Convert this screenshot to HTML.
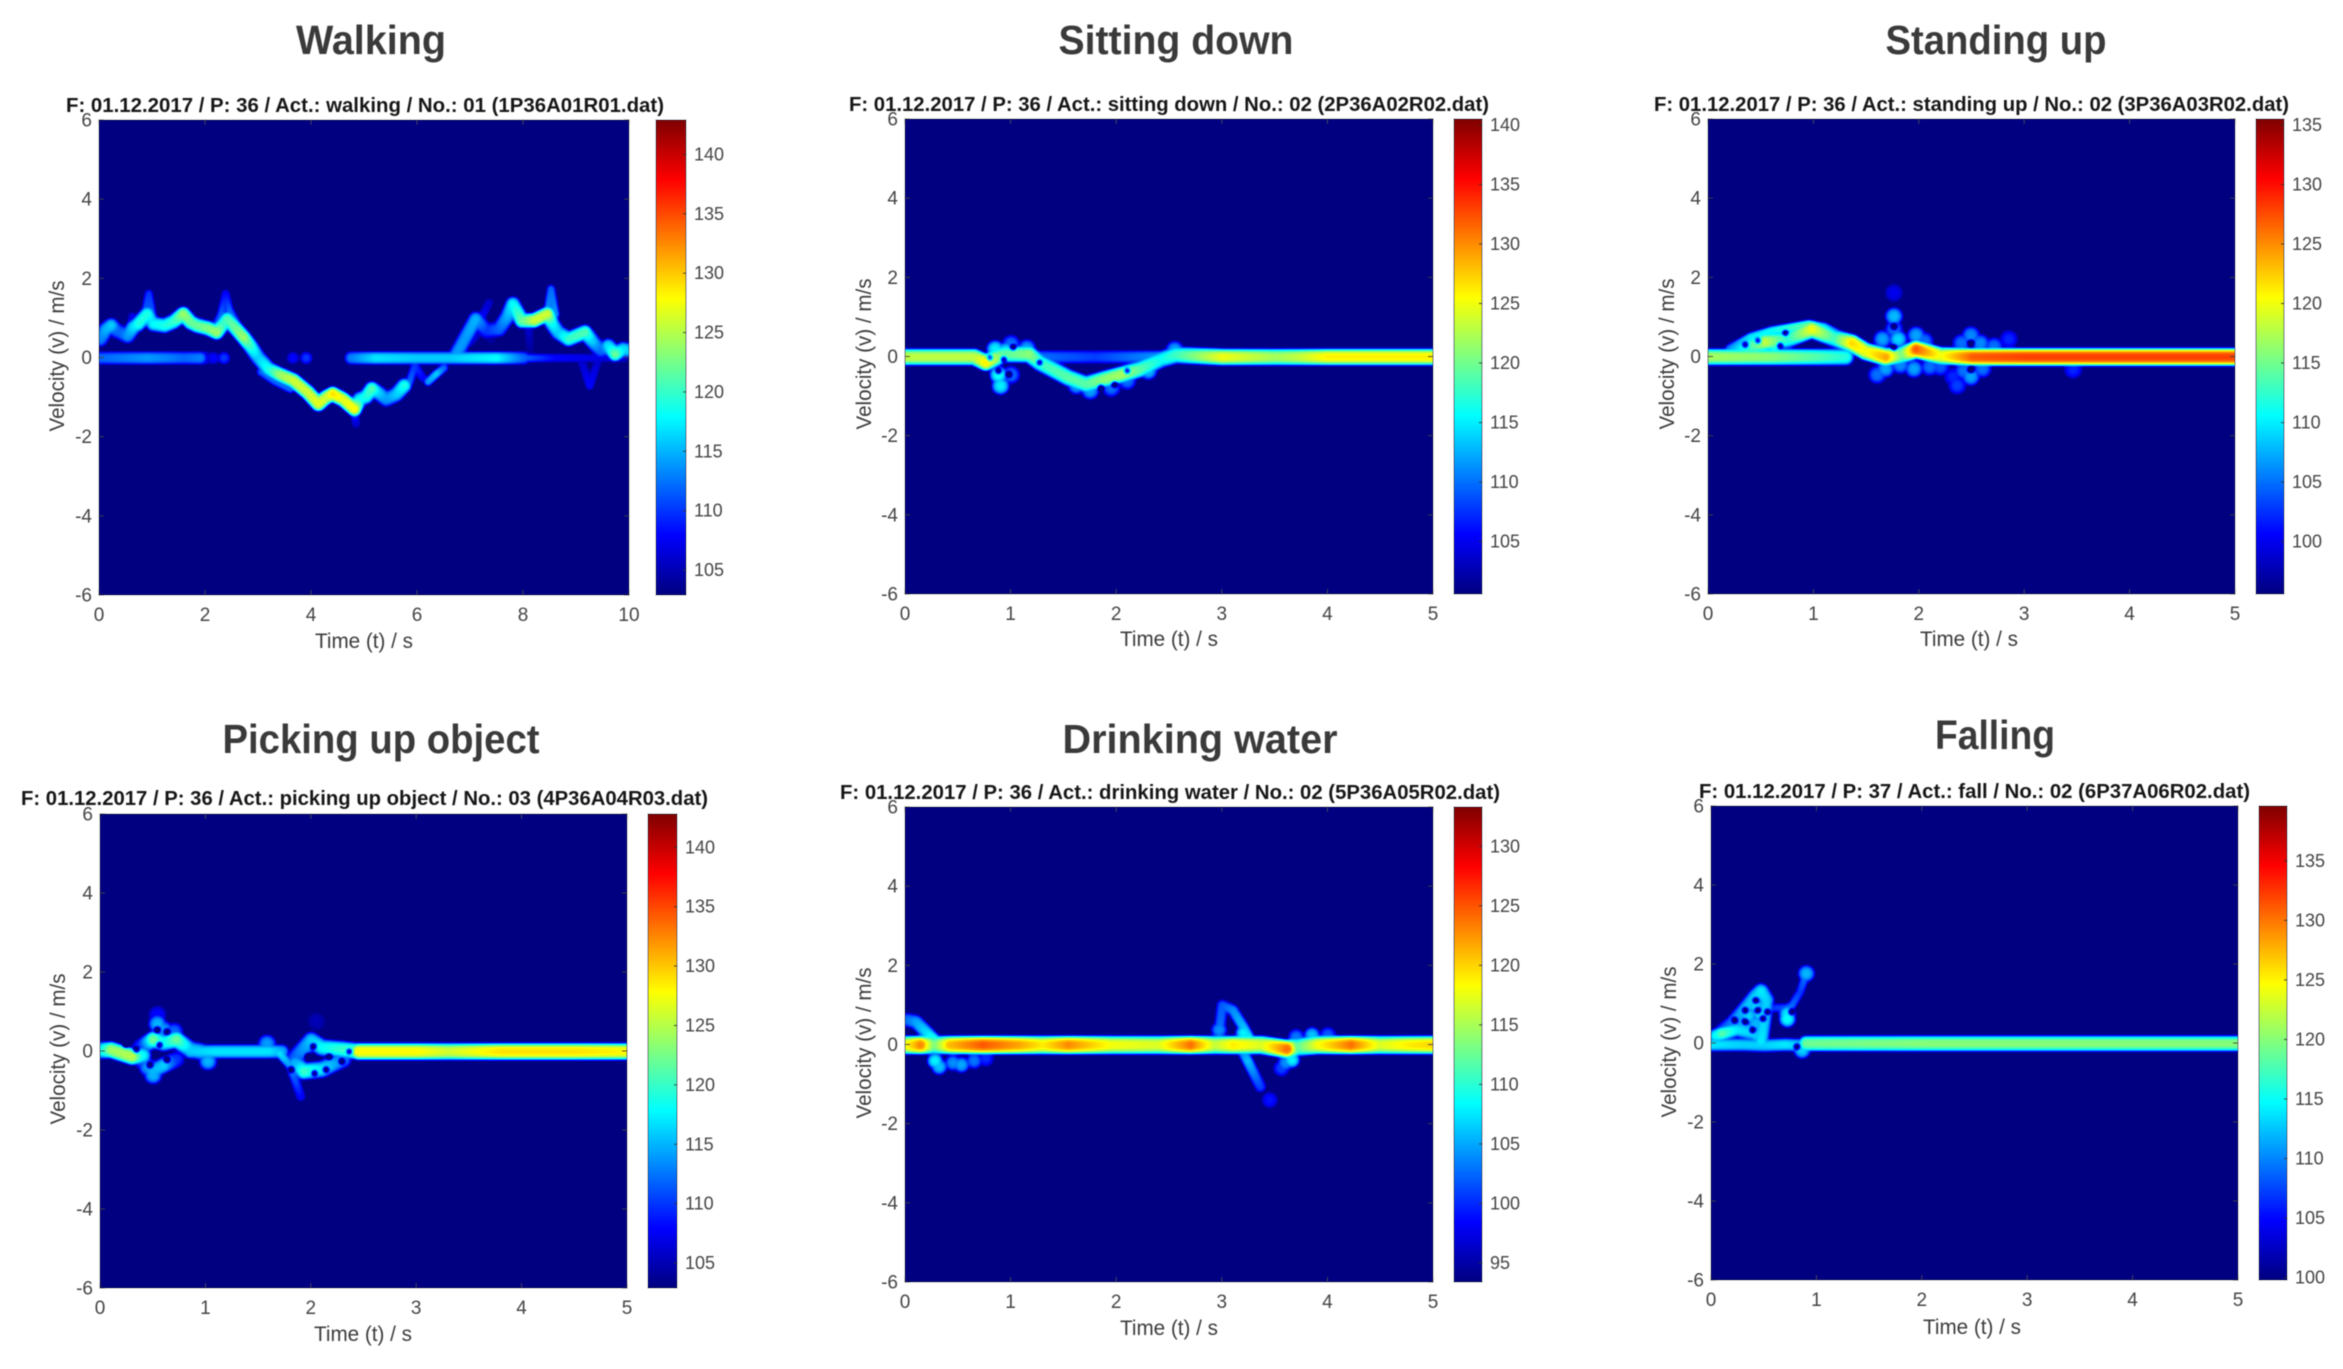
<!DOCTYPE html>
<html lang="en">
<head>
<meta charset="utf-8">
<title>Radar spectrograms of six activities</title>
<style>
  html, body { margin: 0; padding: 0; background: #ffffff; }
  #stage { position: relative; width: 2343px; height: 1369px; overflow: hidden; background: #ffffff; }
  canvas { position: absolute; display: block; }
  svg#overlay { position: absolute; left: 0; top: 0; filter: blur(0.45px); }
  text { font-family: "Liberation Sans", sans-serif; }
  .title { font-size: 41px; font-weight: bold; fill: #3a3a3a; text-anchor: middle; }
  .subtitle { font-size: 20px; font-weight: bold; fill: #161616; }
  .axis-label { font-size: 21px; fill: #3c3c3c; text-anchor: middle; }
</style>
</head>
<body>
<div id="stage">
  <canvas id="heat-walking"></canvas>
  <canvas id="bar-walking"></canvas>
  <canvas id="heat-sitting"></canvas>
  <canvas id="bar-sitting"></canvas>
  <canvas id="heat-standing"></canvas>
  <canvas id="bar-standing"></canvas>
  <canvas id="heat-picking"></canvas>
  <canvas id="bar-picking"></canvas>
  <canvas id="heat-drinking"></canvas>
  <canvas id="bar-drinking"></canvas>
  <canvas id="heat-falling"></canvas>
  <canvas id="bar-falling"></canvas>

  <svg id="overlay" width="2343" height="1369" viewBox="0 0 2343 1369" xmlns="http://www.w3.org/2000/svg">
    <text class="title" x="371" y="54" textLength="150" lengthAdjust="spacingAndGlyphs">Walking</text>
    <text class="title" x="1176" y="54" textLength="235" lengthAdjust="spacingAndGlyphs">Sitting down</text>
    <text class="title" x="1996" y="54" textLength="221" lengthAdjust="spacingAndGlyphs">Standing up</text>
    <text class="title" x="381" y="753" textLength="317" lengthAdjust="spacingAndGlyphs">Picking up object</text>
    <text class="title" x="1200" y="753" textLength="275" lengthAdjust="spacingAndGlyphs">Drinking water</text>
    <text class="title" x="1995" y="749" textLength="120" lengthAdjust="spacingAndGlyphs">Falling</text>

    <text class="subtitle" x="66" y="112" textLength="598" lengthAdjust="spacingAndGlyphs">F: 01.12.2017 / P: 36 / Act.: walking / No.: 01 (1P36A01R01.dat)</text>
    <text class="subtitle" x="849" y="111" textLength="640" lengthAdjust="spacingAndGlyphs">F: 01.12.2017 / P: 36 / Act.: sitting down / No.: 02 (2P36A02R02.dat)</text>
    <text class="subtitle" x="1654" y="111" textLength="635" lengthAdjust="spacingAndGlyphs">F: 01.12.2017 / P: 36 / Act.: standing up / No.: 02 (3P36A03R02.dat)</text>
    <text class="subtitle" x="21" y="805" textLength="687" lengthAdjust="spacingAndGlyphs">F: 01.12.2017 / P: 36 / Act.: picking up object / No.: 03 (4P36A04R03.dat)</text>
    <text class="subtitle" x="840" y="799" textLength="660" lengthAdjust="spacingAndGlyphs">F: 01.12.2017 / P: 36 / Act.: drinking water / No.: 02 (5P36A05R02.dat)</text>
    <text class="subtitle" x="1699" y="798" textLength="551" lengthAdjust="spacingAndGlyphs">F: 01.12.2017 / P: 37 / Act.: fall / No.: 02 (6P37A06R02.dat)</text>

    <text class="axis-label" transform="translate(64,356) rotate(-90)" textLength="151" lengthAdjust="spacingAndGlyphs">Velocity (v) / m/s</text>
    <text class="axis-label" transform="translate(871,354) rotate(-90)" textLength="151" lengthAdjust="spacingAndGlyphs">Velocity (v) / m/s</text>
    <text class="axis-label" transform="translate(1674,354) rotate(-90)" textLength="151" lengthAdjust="spacingAndGlyphs">Velocity (v) / m/s</text>
    <text class="axis-label" transform="translate(65,1049) rotate(-90)" textLength="151" lengthAdjust="spacingAndGlyphs">Velocity (v) / m/s</text>
    <text class="axis-label" transform="translate(871,1043) rotate(-90)" textLength="151" lengthAdjust="spacingAndGlyphs">Velocity (v) / m/s</text>
    <text class="axis-label" transform="translate(1676,1042) rotate(-90)" textLength="151" lengthAdjust="spacingAndGlyphs">Velocity (v) / m/s</text>

    <text class="axis-label" x="364" y="648" textLength="98" lengthAdjust="spacingAndGlyphs">Time (t) / s</text>
    <text class="axis-label" x="1169" y="646" textLength="98" lengthAdjust="spacingAndGlyphs">Time (t) / s</text>
    <text class="axis-label" x="1969" y="646" textLength="98" lengthAdjust="spacingAndGlyphs">Time (t) / s</text>
    <text class="axis-label" x="363" y="1341" textLength="98" lengthAdjust="spacingAndGlyphs">Time (t) / s</text>
    <text class="axis-label" x="1169" y="1335" textLength="98" lengthAdjust="spacingAndGlyphs">Time (t) / s</text>
    <text class="axis-label" x="1972" y="1334" textLength="98" lengthAdjust="spacingAndGlyphs">Time (t) / s</text>

    <g id="axes-layer"></g>
  </svg>
</div>

<script>
/* ---------- tick labels ---------- */
const velocityTicks = [-6, -4, -2, 0, 2, 4, 6];
const timeTicksTen = [0, 2, 4, 6, 8, 10];
const timeTicksFive = [0, 1, 2, 3, 4, 5];
const walkingLevelTicks = [105, 110, 115, 120, 125, 130, 135, 140];
const sittingLevelTicks = [105, 110, 115, 120, 125, 130, 135, 140];
const standingLevelTicks = [100, 105, 110, 115, 120, 125, 130, 135];
const pickingLevelTicks = [105, 110, 115, 120, 125, 130, 135, 140];
const drinkingLevelTicks = [95, 100, 105, 110, 115, 120, 125, 130];
const fallingLevelTicks = [100, 105, 110, 115, 120, 125, 130, 135];

/* ---------- walking: time (s), velocity (m/s), level (dB) ---------- */
const walkRidgeTime = [0.02,0.12,0.22,0.33,0.39,0.53,0.64,0.73,0.9,0.97,1.02,1.23,1.4,1.58,1.72,1.84,2.05,2.21,2.33,2.41,2.55,2.72,2.85,2.99,3.19,3.4,3.66,3.93,4.13,4.27,4.4,4.6,4.81,4.91,5.03,5.14,5.28,5.41,5.6,5.75];
const walkRidgeVel = [0.48,0.72,0.82,0.68,0.65,0.56,0.78,0.86,1.11,0.95,0.86,0.82,0.92,1.11,0.9,0.82,0.75,0.65,0.85,0.98,0.78,0.52,0.3,0.02,-0.28,-0.42,-0.57,-0.87,-1.16,-1,-0.91,-1.05,-1.29,-1.04,-0.98,-0.78,-0.9,-1.04,-0.92,-0.7];
const walkRidgeDb = [113,115,116,112,112,114,117,119,119,117,118,119,120,124,122,122,123,124,120,121,122,124,120,116,119,124,126,126,127,126,129,127,128,118,119,121,116,114,116,119];
const walkRiseTime = [6.7,6.9,7.1,7.3,7.54,7.7,7.8,7.97,8.2,8.45,8.55,8.65,8.85,9.16,9.3,9.46,9.6,9.73,9.88,10];
const walkRiseVel = [0.02,0.5,0.98,0.69,0.73,1.05,1.36,0.94,0.95,1.11,0.85,0.65,0.48,0.65,0.42,0.19,0.3,0.1,0.22,0.19];
const walkRiseDb = [114,114,115,110,112,115,118,122,126,126,118,116,120,121,116,112,117,122,117,116];
const walkZeroTime = [0,0.5,0.9,1.3,1.6,1.9,2.05,null,4.75,5.2,6,6.6,7,7.5,8];
const walkZeroVel = [0,0,0,0,0,0,0,null,0,0,0,0,0,0,0];
const walkZeroDb = [112,113,114,113,112,113,106,null,113,117,116,116,117,118,112];
const walkThinTime = [8,8.6,9.3,9.9];
const walkThinVel = [0,0,0,0];
const walkThinDb = [112,108,107,106];
const walkFaintTime = [0.55,0.62,null,0.86,0.93,1.0,null,2.2,2.3,2.38,2.45,2.6,2.8,null,4.8,4.84,null,5.85,5.95,6.1,null,6.2,6.36,6.5,null,7.2,7.35,null,7.55,7.7,null,8.45,8.52,8.6,null,9.1,9.25,9.4,null,8.1,8.13,null,3.05,3.3,3.6,null,7.0,7.2,7.4];
const walkFaintVel = [0.5,1.05,null,1.1,1.62,1.05,null,0.85,1.1,1.62,1.2,0.85,0.42,null,-1.2,-1.67,null,-0.6,-0.2,-0.5,null,-0.6,-0.4,-0.25,null,1.0,1.4,null,0.9,1.2,null,1.1,1.74,1.1,null,-0.1,-0.7,-0.1,null,0.7,0.2,null,-0.35,-0.58,-0.78,null,0.4,0.7,0.45];
const walkFaintDb = [106,107,null,112,110,112,null,110,112,108,112,112,110,null,114,106,null,112,110,108,null,114,116,112,null,108,106,null,108,106,null,114,112,114,null,106,108,106,null,106,104,null,112,112,112,null,106,106,104];
const walkSpotTime = [2.35,2.15,3.65,3.9];
const walkSpotVel = [0,0,0,0];
const walkSpotDb = [110,108,108,110];

/* ---------- sitting down ---------- */
const sitBandTime = [0,0.65,0.76,0.93,1.17,1.27,1.54,1.71,1.88,2.05,2.22,2.42,2.56,3,3.5,3.7,4,4.5,5];
const sitBandVel = [0,0,-0.14,0.07,0.07,-0.14,-0.52,-0.69,-0.56,-0.44,-0.31,-0.06,0.05,0,0,0,0,0,0];
const sitBandDb = [123,123,126,119,121,118,119,119,121,122,119,116,118,125,122,123,126,126,126];
const sitThinTime = [1.25,1.8,2.45];
const sitThinVel = [0,0,0];
const sitThinDb = [110,108,112];
const sitSpotTime = [0.88,0.9,1,1,0.85,1.15,0.95,1.75,1.95,2.1,2.55,1.62,2.3];
const sitSpotVel = [-0.45,-0.73,-0.45,0.33,0.2,0.22,0.15,-0.85,-0.78,-0.6,0.18,-0.72,-0.35];
const sitSpotDb = [116,115,110,110,115,112,115,112,110,110,112,112,113];
const sitHoleTime = [0.8,0.88,0.98,0.93,1.02,1.85,1.98,2.1,1.27];
const sitHoleVel = [-0.02,-0.35,-0.44,-0.06,0.24,-0.77,-0.69,-0.35,-0.14];

/* ---------- standing up ---------- */
const standBandTime = [0,0.6,1,1.3];
const standBandVel = [0,0,0,0];
const standBandDb = [117,116,114,112];
const standHumpTime = [0.24,0.54,0.75,0.98,1.19,1.36,1.49,1.68,1.83,1.97,2.2,2.5,3,4,5];
const standHumpVel = [0.15,0.38,0.45,0.7,0.48,0.35,0.14,0,0.05,0.19,0.03,0,0,0,0];
const standHumpDb = [108,118,112,120,113,122,120,124,115,127,120,127,128,128,128];
const standDomeTime = [0.2,0.4,0.6,0.8,0.95,1.1,1.25];
const standDomeVel = [0.2,0.5,0.66,0.75,0.82,0.75,0.55];
const standDomeDb = [106,110,111,113,114,110,106];
const standSpotTime = [1.76,1.76,1.65,1.8,1.97,2.05,1.6,1.68,1.95,2.1,2.32,2.36,2.49,2.4,2.58,2.49,2.42,2.6,2.71,2.85,3.46,1.76,0.35,0.62,1.82,2.2];
const standSpotVel = [1.03,0.7,0.45,0.45,0.55,0.4,-0.45,-0.3,-0.3,-0.25,-0.5,-0.72,0.55,0.35,0.35,-0.5,-0.35,-0.3,0.27,0.45,-0.32,1.62,0.25,0.3,-0.2,-0.25];
const standSpotDb = [108,105,107,109,107,105,105,107,107,105,102,103,106,105,106,107,105,105,105,102,102,100,110,112,106,104];
const standHoleTime = [0.35,0.47,0.73,0.68,1.76,2.49,2.49,1.76];
const standHoleVel = [0.31,0.41,0.61,0.29,0.77,0.35,-0.32,0.23];

/* ---------- picking up object ---------- */
const pickStartTime = [0,0.1,0.3,0.4];
const pickStartVel = [0.03,0.04,-0.13,-0.1];
const pickStartDb = [118,124,125,118];
const pickUpperTime = [0.38,0.5,0.6,0.72,0.85,0.95];
const pickUpperVel = [0.1,0.3,0.22,0.3,0.05,0];
const pickUpperDb = [110,122,118,122,116,116];
const pickLowerTime = [0.38,0.49,0.6,0.72];
const pickLowerVel = [-0.2,-0.5,-0.35,-0.2];
const pickLowerDb = [110,115,116,110];
const pickMidTime = [0.85,1.08,1.6,1.72];
const pickMidVel = [0,0,0,0];
const pickMidDb = [116,117,117,115];
const pickDipTime = [1.7,1.8,1.9];
const pickDipVel = [-0.05,-0.35,-1.14];
const pickDipDb = [117,114,108];
const pickBlobTopTime = [1.85,2,2.1,2.3,2.45];
const pickBlobTopVel = [-0.15,0.28,0.1,0.05,0];
const pickBlobTopDb = [112,116,118,120,122];
const pickBlobLowTime = [1.85,1.93,2.1,2.3];
const pickBlobLowVel = [-0.3,-0.5,-0.45,-0.2];
const pickBlobLowDb = [115,120,117,113];
const pickTailTime = [2.45,3,3.3,3.8,4.5,5];
const pickTailVel = [0,0,0,0,0,0];
const pickTailDb = [128,128,126,129,129,128];
const pickSpotTime = [0.54,0.54,0.5,2.05,1.02,1.58,0.6,0.45,0.7,2.2];
const pickSpotVel = [0.93,0.7,-0.6,0.76,-0.25,0.2,0.55,-0.4,0.5,-0.3];
const pickSpotDb = [108,115,115,105,115,114,114,114,112,114];
const pickHoleTime = [0.24,0.34,0.54,0.63,0.56,0.47,0.63,1.97,2.02,1.81,2.03,2.14,2.17,2.29,2.36];
const pickHoleVel = [0.17,0.04,0.55,0.5,0.17,-0.34,-0.21,-0.13,0.13,-0.46,-0.55,-0.46,-0.13,-0.25,0];

/* ---------- drinking water ---------- */
const drinkBandTime = [0,0.14,0.27,0.42,0.73,1.07,1.3,1.54,1.95,2.39,2.7,2.93,3.1,3.37,3.61,3.71,3.9,4.22,4.49,4.76,5];
const drinkBandVel = [0,0,0,0,0,0,0,0,0,0,0,0,0,0,-0.1,-0.05,0,0,0,0,0];
const drinkBandDb = [118,123,113,121,125,122,119,123,118,117,124,116,119,117,124,112,118,124,117,119,120];
const drinkLeftTime = [0.02,0.1,0.19,0.27];
const drinkLeftVel = [0.63,0.58,0.34,0.12];
const drinkLeftDb = [103,105,107,110];
const drinkUpTime = [2.97,3,3.1,3.2,3.25];
const drinkUpVel = [0.3,1,0.88,0.45,0.2];
const drinkUpDb = [103,102,104,106,108];
const drinkDownTime = [3.2,3.24,3.36];
const drinkDownVel = [-0.2,-0.4,-1.05];
const drinkDownDb = [104,106,101];
const drinkSpotTime = [0.32,0.28,0.45,0.53,0.65,0.76,3.45,3.56,3.66,3.6,3.85,4,3.7,2.97,3.2];
const drinkSpotVel = [-0.55,-0.4,-0.45,-0.5,-0.4,-0.34,-1.39,-0.59,-0.38,-0.45,0.25,0.25,0.2,0.38,0.3];
const drinkSpotDb = [106,108,104,105,103,100,99,101,108,104,106,102,103,104,108];

/* ---------- falling ---------- */
const fallBandTime = [0.9,2,3,4,5];
const fallBandVel = [0,0,0,0,0];
const fallBandDb = [119,120,120,120,120];
const fallLowTime = [0,0.3,0.5,0.7,0.9];
const fallLowVel = [-0.03,-0.03,-0.05,-0.03,-0.05];
const fallLowDb = [114,113,113,114,112];
const fallArmTime = [0.04,0.1,0.24,0.4,0.47];
const fallArmVel = [0.2,0.25,0.35,0.25,0.1];
const fallArmDb = [115,118,114,113,112];
const fallRiseTime = [0.1,0.2,0.3,0.42,0.47,0.52];
const fallRiseVel = [0.3,0.5,0.8,1.2,1.32,1.1];
const fallRiseDb = [108,110,112,113,114,113];
const fallInnerTime = [0.52,0.5,0.47];
const fallInnerVel = [1.1,0.6,0.05];
const fallInnerDb = [113,113,114];
const fallTailTime = [0.5,0.7,0.76,0.84,0.9];
const fallTailVel = [0.9,0.9,0.95,1.3,1.77];
const fallTailDb = [106,108,109,107,110];
const fallSpotTime = [0.35,0.42,0.25,0.42,0.35,0.72,0.72,0.9,0.86,0.3,0.46];
const fallSpotVel = [0.7,0.95,0.6,0.5,0.3,0.62,0.75,1.77,-0.17,0.45,0.75];
const fallSpotDb = [113,113,110,112,113,115,114,112,113,112,113];
const fallHoleTime = [0.32,0.44,0.53,0.42,0.32,0.22,0.49,0.39,0.76,0.81];
const fallHoleVel = [0.84,0.84,0.8,1.09,0.55,0.59,0.63,0.34,0.8,-0.08];

/* ---------- panel wiring ---------- */
const panels = [
  { key: 'walking', x0: 99, x1: 629, y0: 120, y1: 595, tMax: 10, barX0: 656, barX1: 686, cMin: 102.9, cMax: 142.9,
    xTicks: timeTicksTen, levelTicks: walkingLevelTicks, spotRadius: 7,
    lines: [
      { t: walkRidgeTime, v: walkRidgeVel, db: walkRidgeDb, radius: 8.5 },
      { t: walkRiseTime, v: walkRiseVel, db: walkRiseDb, radius: 8.5 },
      { t: walkZeroTime, v: walkZeroVel, db: walkZeroDb, radius: 7.5 },
      { t: walkThinTime, v: walkThinVel, db: walkThinDb, radius: 5 },
      { t: walkFaintTime, v: walkFaintVel, db: walkFaintDb, radius: 5 }
    ],
    spots: { t: walkSpotTime, v: walkSpotVel, db: walkSpotDb } },
  { key: 'sitting', x0: 905, x1: 1433, y0: 119, y1: 594, tMax: 5, barX0: 1454, barX1: 1482, cMin: 100.6, cMax: 140.5,
    xTicks: timeTicksFive, levelTicks: sittingLevelTicks, spotRadius: 10,
    lines: [
      { t: sitBandTime, v: sitBandVel, db: sitBandDb, radius: 9.5 },
      { t: sitThinTime, v: sitThinVel, db: sitThinDb, radius: 7.5 }
    ],
    spots: { t: sitSpotTime, v: sitSpotVel, db: sitSpotDb },
    holes: { t: sitHoleTime, v: sitHoleVel } },
  { key: 'standing', x0: 1708, x1: 2235, y0: 119, y1: 594, tMax: 5, barX0: 2256, barX1: 2284, cMin: 95.6, cMax: 135.5,
    xTicks: timeTicksFive, levelTicks: standingLevelTicks, spotRadius: 10,
    lines: [
      { t: standBandTime, v: standBandVel, db: standBandDb, radius: 9.5 },
      { t: standHumpTime, v: standHumpVel, db: standHumpDb, radius: 10 },
      { t: standDomeTime, v: standDomeVel, db: standDomeDb, radius: 5.5 }
    ],
    spots: { t: standSpotTime, v: standSpotVel, db: standSpotDb },
    holes: { t: standHoleTime, v: standHoleVel } },
  { key: 'picking', x0: 100, x1: 627, y0: 814, y1: 1288, tMax: 5, barX0: 648, barX1: 677, cMin: 102.9, cMax: 142.8,
    xTicks: timeTicksFive, levelTicks: pickingLevelTicks, spotRadius: 10,
    lines: [
      { t: pickStartTime, v: pickStartVel, db: pickStartDb, radius: 9.5 },
      { t: pickUpperTime, v: pickUpperVel, db: pickUpperDb, radius: 9.5 },
      { t: pickLowerTime, v: pickLowerVel, db: pickLowerDb, radius: 9 },
      { t: pickMidTime, v: pickMidVel, db: pickMidDb, radius: 8 },
      { t: pickDipTime, v: pickDipVel, db: pickDipDb, radius: 5.5 },
      { t: pickBlobTopTime, v: pickBlobTopVel, db: pickBlobTopDb, radius: 9.5 },
      { t: pickBlobLowTime, v: pickBlobLowVel, db: pickBlobLowDb, radius: 9.5 },
      { t: pickTailTime, v: pickTailVel, db: pickTailDb, radius: 9.5 }
    ],
    spots: { t: pickSpotTime, v: pickSpotVel, db: pickSpotDb },
    holes: { t: pickHoleTime, v: pickHoleVel } },
  { key: 'drinking', x0: 905, x1: 1433, y0: 807, y1: 1282, tMax: 5, barX0: 1454, barX1: 1482, cMin: 93.4, cMax: 133.3,
    xTicks: timeTicksFive, levelTicks: drinkingLevelTicks, spotRadius: 9,
    lines: [
      { t: drinkBandTime, v: drinkBandVel, db: drinkBandDb, radius: 10.5 },
      { t: drinkLeftTime, v: drinkLeftVel, db: drinkLeftDb, radius: 8 },
      { t: drinkUpTime, v: drinkUpVel, db: drinkUpDb, radius: 6.5 },
      { t: drinkDownTime, v: drinkDownVel, db: drinkDownDb, radius: 6.5 }
    ],
    spots: { t: drinkSpotTime, v: drinkSpotVel, db: drinkSpotDb } },
  { key: 'falling', x0: 1711, x1: 2238, y0: 806, y1: 1280, tMax: 5, barX0: 2259, barX1: 2287, cMin: 99.8, cMax: 139.6,
    xTicks: timeTicksFive, levelTicks: fallingLevelTicks, spotRadius: 9.5,
    lines: [
      { t: fallBandTime, v: fallBandVel, db: fallBandDb, radius: 9 },
      { t: fallLowTime, v: fallLowVel, db: fallLowDb, radius: 7.5 },
      { t: fallArmTime, v: fallArmVel, db: fallArmDb, radius: 8 },
      { t: fallRiseTime, v: fallRiseVel, db: fallRiseDb, radius: 9 },
      { t: fallInnerTime, v: fallInnerVel, db: fallInnerDb, radius: 8.5 },
      { t: fallTailTime, v: fallTailVel, db: fallTailDb, radius: 5 }
    ],
    spots: { t: fallSpotTime, v: fallSpotVel, db: fallSpotDb },
    holes: { t: fallHoleTime, v: fallHoleVel } }
];

/* ---------- colour map ---------- */
function clamp01(x) { return x < 0 ? 0 : x > 1 ? 1 : x; }
function jet(f) {
  return [
    Math.round(255 * clamp01(1.5 - Math.abs(4 * f - 3))),
    Math.round(255 * clamp01(1.5 - Math.abs(4 * f - 2))),
    Math.round(255 * clamp01(1.5 - Math.abs(4 * f - 1)))
  ];
}

/* ---------- drawing ---------- */
const SVG_NS = 'http://www.w3.org/2000/svg';
const axesLayer = document.getElementById('axes-layer');

function smoothField(field, W, H) {
  const copy = new Float32Array(field.length);
  for (let y = 0; y < H; y++) {
    for (let x = 0; x < W; x++) {
      const l = x > 0 ? x - 1 : x, r = x < W - 1 ? x + 1 : x;
      copy[y * W + x] = (field[y * W + l] + field[y * W + x] + field[y * W + r]) / 3;
    }
  }
  for (let y = 0; y < H; y++) {
    const u = y > 0 ? y - 1 : y, d = y < H - 1 ? y + 1 : y;
    for (let x = 0; x < W; x++) {
      field[y * W + x] = (copy[u * W + x] + copy[y * W + x] + copy[d * W + x]) / 3;
    }
  }
}

function drawHeatmap(p, xAt, yAt) {
  const canvas = document.getElementById('heat-' + p.key);
  const W = Math.round(p.x1 - p.x0);
  const H = Math.round(p.y1 - p.y0);
  canvas.width = W;
  canvas.height = H;
  canvas.style.left = p.x0 + 'px';
  canvas.style.top = p.y0 + 'px';
  const field = new Float32Array(W * H).fill(p.cMin - 1);

  function stamp(ax, ay, ad, bx, by, bd, r) {
    const left = Math.max(0, Math.floor(Math.min(ax, bx) - r));
    const right = Math.min(W - 1, Math.ceil(Math.max(ax, bx) + r));
    const top = Math.max(0, Math.floor(Math.min(ay, by) - r));
    const bottom = Math.min(H - 1, Math.ceil(Math.max(ay, by) + r));
    const dx = bx - ax, dy = by - ay;
    const len2 = dx * dx + dy * dy;
    for (let py = top; py <= bottom; py++) {
      for (let px = left; px <= right; px++) {
        const u = len2 === 0 ? 0 : clamp01(((px - ax) * dx + (py - ay) * dy) / len2);
        const qx = ax + u * dx - px, qy = ay + u * dy - py;
        const d = Math.sqrt(qx * qx + qy * qy) / r;
        if (d >= 1) continue;
        const peak = ad + (bd - ad) * u;
        const val = peak - (peak - p.cMin) * Math.pow(d, 3.2);
        const i = py * W + px;
        if (val > field[i]) field[i] = val;
      }
    }
  }

  p.lines.forEach(function (line) {
    for (let i = 0; i + 1 < line.t.length; i++) {
      if (line.t[i] === null || line.t[i + 1] === null) continue;
      stamp(xAt(line.t[i]) - p.x0, yAt(line.v[i]) - p.y0, line.db[i],
            xAt(line.t[i + 1]) - p.x0, yAt(line.v[i + 1]) - p.y0, line.db[i + 1], line.radius);
    }
  });
  if (p.spots) {
    p.spots.t.forEach(function (t, i) {
      const sx = xAt(t) - p.x0, sy = yAt(p.spots.v[i]) - p.y0;
      stamp(sx, sy, p.spots.db[i], sx, sy, p.spots.db[i], p.spotRadius);
    });
  }
  if (p.holes) {
    const holeRadius = 4, holeDepth = 16;
    p.holes.t.forEach(function (t, i) {
      const hx = xAt(t) - p.x0, hy = yAt(p.holes.v[i]) - p.y0;
      for (let py = Math.max(0, Math.floor(hy - holeRadius)); py <= Math.min(H - 1, Math.ceil(hy + holeRadius)); py++) {
        for (let px = Math.max(0, Math.floor(hx - holeRadius)); px <= Math.min(W - 1, Math.ceil(hx + holeRadius)); px++) {
          const d2 = ((px - hx) * (px - hx) + (py - hy) * (py - hy)) / (holeRadius * holeRadius);
          if (d2 < 1) field[py * W + px] -= holeDepth * (1 - d2);
        }
      }
    });
  }
  smoothField(field, W, H);

  const ctx = canvas.getContext('2d');
  const img = ctx.createImageData(W, H);
  for (let i = 0; i < W * H; i++) {
    const c = jet(clamp01((field[i] - p.cMin) / (p.cMax - p.cMin)));
    img.data[i * 4] = c[0];
    img.data[i * 4 + 1] = c[1];
    img.data[i * 4 + 2] = c[2];
    img.data[i * 4 + 3] = 255;
  }
  ctx.putImageData(img, 0, 0);
}

function drawColorbar(p) {
  const canvas = document.getElementById('bar-' + p.key);
  const W = p.barX1 - p.barX0;
  const H = Math.round(p.y1 - p.y0);
  canvas.width = W;
  canvas.height = H;
  canvas.style.left = p.barX0 + 'px';
  canvas.style.top = p.y0 + 'px';
  const ctx = canvas.getContext('2d');
  for (let row = 0; row < H; row++) {
    const c = jet(1 - row / (H - 1));
    ctx.fillStyle = 'rgb(' + c[0] + ',' + c[1] + ',' + c[2] + ')';
    ctx.fillRect(0, row, W, 1);
  }
}

function addLine(x1, y1, x2, y2, stroke, width, name) {
  const el = document.createElementNS(SVG_NS, 'line');
  el.setAttribute('x1', x1);
  el.setAttribute('y1', y1);
  el.setAttribute('x2', x2);
  el.setAttribute('y2', y2);
  el.setAttribute('stroke', stroke);
  el.setAttribute('stroke-width', width);
  
  
  axesLayer.appendChild(el);
}

function addLabel(x, y, anchor, size, content, name) {
  const el = document.createElementNS(SVG_NS, 'text');
  el.setAttribute('x', x);
  el.setAttribute('y', y);
  el.setAttribute('text-anchor', anchor);
  el.setAttribute('font-size', size);
  el.setAttribute('fill', '#454545');
  
  
  el.textContent = content;
  axesLayer.appendChild(el);
}

function addBox(x0, y0, x1, y1, name) {
  const el = document.createElementNS(SVG_NS, 'rect');
  el.setAttribute('x', x0);
  el.setAttribute('y', y0);
  el.setAttribute('width', x1 - x0);
  el.setAttribute('height', y1 - y0);
  el.setAttribute('fill', 'none');
  el.setAttribute('stroke', '#5c6270');
  el.setAttribute('stroke-width', '0.8');
  
  
  axesLayer.appendChild(el);
}

panels.forEach(function (p) {
  const xAt = function (t) { return p.x0 + (t / p.tMax) * (p.x1 - p.x0); };
  const yAt = function (v) { return p.y1 - ((v + 6) / 12) * (p.y1 - p.y0); };
  const levelAt = function (db) { return p.y1 - ((db - p.cMin) / (p.cMax - p.cMin)) * (p.y1 - p.y0); };

  drawHeatmap(p, xAt, yAt);
  drawColorbar(p);

  addBox(p.x0, p.y0, p.x1, p.y1, p.key + '-plot-frame');
  addBox(p.barX0, p.y0, p.barX1, p.y1, p.key + '-colorbar-frame');

  p.xTicks.forEach(function (t) {
    addLine(xAt(t), p.y1, xAt(t), p.y1 - 5, '#555', 0.8, p.key + '-x-tick');
    addLine(xAt(t), p.y0, xAt(t), p.y0 + 5, '#555', 0.8, p.key + '-x-tick-top');
    addLabel(xAt(t), p.y1 + 26, 'middle', 19, String(t), p.key + '-x-tick-label');
  });
  velocityTicks.forEach(function (v) {
    addLine(p.x0, yAt(v), p.x0 + 5, yAt(v), '#444', 0.9, p.key + '-y-tick');
    addLine(p.x1, yAt(v), p.x1 - 5, yAt(v), '#444', 0.9, p.key + '-y-tick-right');
    addLabel(p.x0 - 7, yAt(v) + 6.5, 'end', 19, String(v), p.key + '-y-tick-label');
  });
  p.levelTicks.forEach(function (db) {
    addLine(p.barX1, levelAt(db), p.barX1 - 3, levelAt(db), '#333', 0.9, p.key + '-colorbar-tick');
    addLabel(p.barX1 + 8, levelAt(db) + 6, 'start', 18, String(db), p.key + '-colorbar-tick-label');
  });
});
</script>
</body>
</html>
